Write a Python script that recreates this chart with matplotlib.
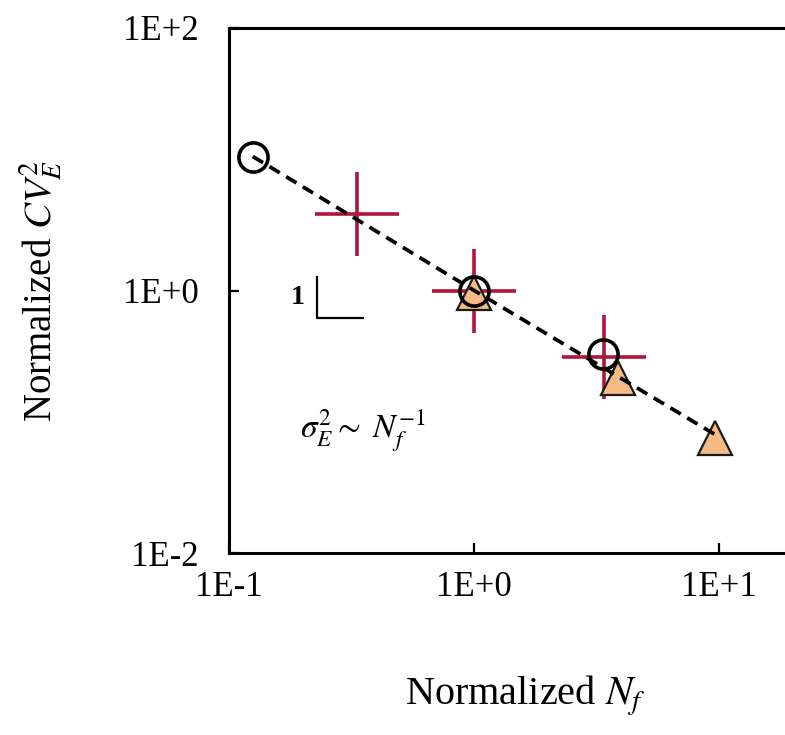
import matplotlib
matplotlib.use("Agg")
from matplotlib import pyplot as plt

# data (normalized values)
circle_x = [0.125, 1.0, 3.37]
circle_y = [10.4, 1.0, 0.33]

cross_x = [0.333, 1.0, 3.4]
cross_y = [3.85, 1.0, 0.31]

tri_x = [1.0, 3.87, 9.6]
tri_y = [0.95, 0.215, 0.075]

fit_x = [0.125, 1.0, 9.6]
fit_y = [10.5, 1.0, 0.08]

# slope guide "1 |_"
guide_x = [0.229, 0.229, 0.352]
guide_y = [1.26, 0.62, 0.62]

plt.rcParams['font.family'] = ['Liberation Serif', 'DejaVu Serif']
plt.rcParams['mathtext.fontset'] = 'stix'

fig = plt.figure(figsize=(7.85, 7.35), dpi=100)
# axes runs past the right edge of the figure, like the cropped original
ax = fig.add_axes([229 / 785, 1 - 553 / 735, 592 / 785, 525 / 735])

ax.plot(cross_x, cross_y, linestyle='none', marker='+', ms=60, mew=2.6,
        color='#b0163c', zorder=2)
ax.plot(tri_x, tri_y, linestyle='none', marker='^', ms=24, mew=1.6,
        markerfacecolor='#f6bb84', markeredgecolor='#1a1a1a', zorder=3)
ax.plot(circle_x, circle_y, linestyle='none', marker='o', ms=21, mew=2.6,
        markerfacecolor='none', markeredgecolor='black', zorder=4)
ax.plot(fit_x, fit_y, linestyle=(0, (3.2, 2.0)), color='black', lw=2.7, zorder=5)

ax.plot(guide_x, guide_y, color='black', lw=1.6, zorder=5)
ax.text(0.19, 0.885, '1', fontsize=20, fontweight='bold', ha='center', va='center')
ax.text(0.195, 0.075, r'$\sigma_E^2{\sim}\ N_f^{-1}$', fontsize=24, ha='left', va='baseline')

ax.set_xscale('log')
ax.set_yscale('log')
ax.set_xlim(0.1, 26)
ax.set_ylim(1e-2, 1e2)
ax.set_xticks([0.1, 1, 10])
ax.set_xticklabels(['1E-1', '1E+0', '1E+1'])
ax.set_yticks([1e-2, 1, 1e2])
ax.set_yticklabels(['1E-2', '1E+0', '1E+2'])
ax.minorticks_off()
ax.tick_params(direction='in', length=7, width=1.6, labelsize=25)
ax.tick_params(axis='x', pad=13)
ax.tick_params(axis='y', pad=22)
for s in ax.spines.values():
    s.set_linewidth(2.2)

ax.set_xlabel(r'Normalized $N_f$', fontsize=29, labelpad=50)
ax.set_ylabel(r'Normalized $CV_E^2$', fontsize=28, labelpad=42)

fig.savefig('out.png', dpi=100)
